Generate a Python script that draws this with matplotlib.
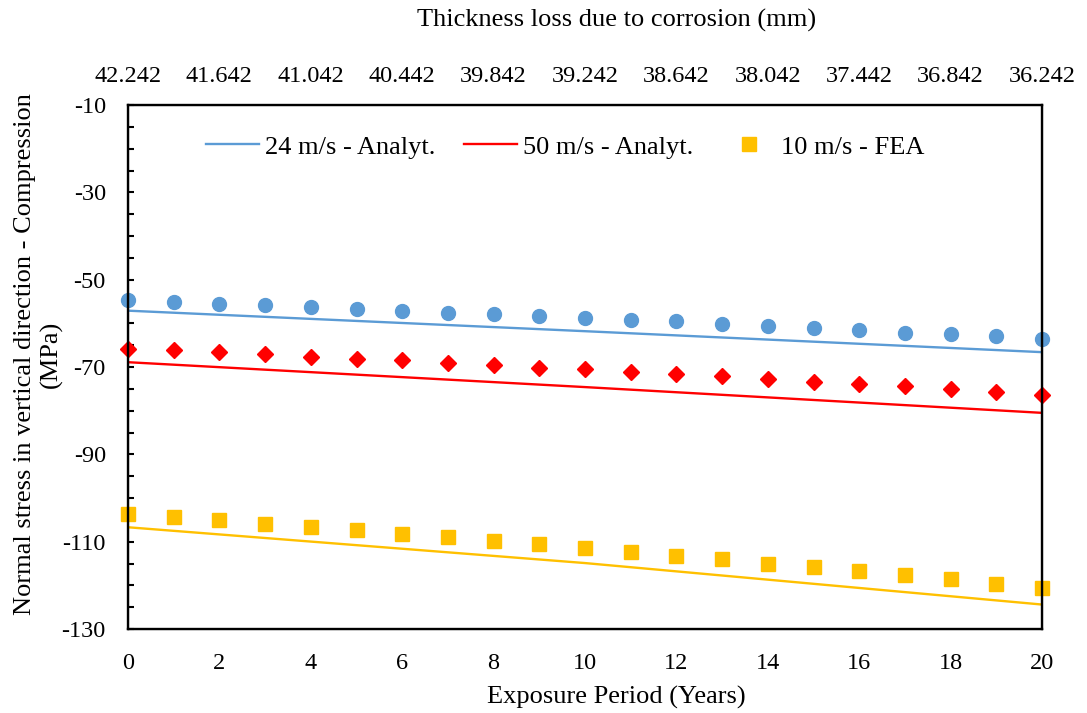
import numpy as np
from matplotlib import pyplot as plt
from matplotlib.ticker import MultipleLocator

plt.rcParams['font.family'] = ['Liberation Serif', 'DejaVu Serif']
plt.rcParams['font.size'] = 17.5
plt.rcParams['axes.unicode_minus'] = False

# exposure period (years)
years = np.arange(0, 21)

# FEA points (MPa)
fea_24 = [-54.6, -55.1, -55.5, -55.8, -56.2, -56.7, -57.2, -57.6, -57.9, -58.3, -58.7,
          -59.2, -59.5, -60.2, -60.5, -61.1, -61.5, -62.1, -62.4, -63.0, -63.6]
fea_50 = [-65.8, -66.2, -66.6, -67.1, -67.6, -68.1, -68.5, -69.1, -69.5, -70.2, -70.5,
          -71.1, -71.6, -72.1, -72.7, -73.4, -73.9, -74.4, -75.0, -75.7, -76.3]
fea_10 = [-103.7, -104.4, -105.1, -105.9, -106.6, -107.3, -108.2, -108.9, -109.8, -110.5, -111.5,
          -112.3, -113.2, -114.0, -115.0, -115.8, -116.7, -117.7, -118.6, -119.7, -120.5]

# analytical lines
yrs_an = [0, 10, 20]
an_24 = [-57.1, -61.8, -66.6]
an_50 = [-68.9, -74.6, -80.5]
an_10 = [-106.7, -114.9, -124.4]

# top axis: thickness
top_ticks = np.arange(0, 21, 2)
top_labels = ["42.242", "41.642", "41.042", "40.442", "39.842", "39.242",
              "38.642", "38.042", "37.442", "36.842", "36.242"]

fig = plt.figure(figsize=(10.87, 7.13), dpi=100)
ax = fig.add_axes([128/1087, 1-629/713, (1042-128)/1087, (629-105)/713])

blue = "#5B9BD5"
red = "#FF0000"
orange = "#FFC000"

ax.plot(yrs_an, an_24, color=blue, lw=1.7, label="24 m/s - Analyt.")
ax.plot(yrs_an, an_50, color=red, lw=1.7, label="50 m/s - Analyt.")
ax.plot(yrs_an, an_10, color=orange, lw=1.7)
ax.plot(years, fea_24, "o", color=blue, ms=10, clip_on=False)
ax.plot(years, fea_50, "D", color=red, ms=7.8, clip_on=False)
ax.plot(years, fea_10, "s", color=orange, ms=10, clip_on=False, label="10 m/s - FEA")

ax.set_xlim(0, 20)
ax.set_ylim(-130, -10)
ax.set_xticks(np.arange(0, 21, 2))
ax.set_yticks(np.arange(-130, -9, 20))
ax.yaxis.set_minor_locator(MultipleLocator(5))
ax.tick_params(axis="x", length=0, pad=17)
ax.tick_params(axis="y", which="both", direction="in", length=4.5, width=1.5, pad=16)
for s in ax.spines.values():
    s.set_linewidth(1.7)

ax.set_xlabel("Exposure Period (Years)", fontsize=19)
ax.xaxis.set_label_coords(0.534, -0.108)
ax.set_ylabel("Normal stress in vertical direction - Compression\n(MPa)", fontsize=19, linespacing=1.2)
ax.yaxis.set_label_coords(-0.0715, 0.525)

ax2 = ax.twiny()
ax2.set_xlim(0, 20)
ax2.set_xticks(top_ticks)
ax2.set_xticklabels(top_labels)
ax2.tick_params(axis="x", length=0, pad=13)
ax2.set_xlabel("Thickness loss due to corrosion (mm)", fontsize=19)
ax2.xaxis.set_label_coords(0.534, 1.150)

ax.legend(loc="center left", bbox_to_anchor=(0.0738, 0.92), ncol=3, frameon=False,
          borderaxespad=0, handlelength=2.0, columnspacing=1.1, handletextpad=0.23, fontsize=19)

fig.savefig("out.png", dpi=100)
